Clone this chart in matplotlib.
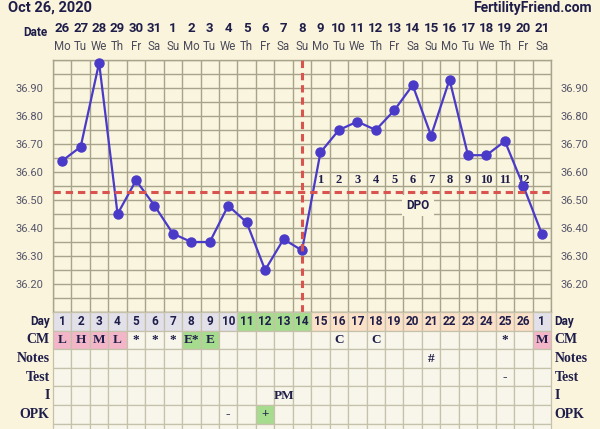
import matplotlib
matplotlib.use("Agg")
import matplotlib.pyplot as plt
from matplotlib.patches import Rectangle
import numpy as np

# ---------------- data ----------------
title = "Oct 26, 2020"
site = "FertilityFriend.com"
dates = ["26", "27", "28", "29", "30", "31", "1", "2", "3", "4", "5", "6", "7", "8",
         "9", "10", "11", "12", "13", "14", "15", "16", "17", "18", "19", "20", "21"]
weekdays = ["Mo", "Tu", "We", "Th", "Fr", "Sa", "Su", "Mo", "Tu", "We", "Th", "Fr", "Sa", "Su",
            "Mo", "Tu", "We", "Th", "Fr", "Sa", "Su", "Mo", "Tu", "We", "Th", "Fr", "Sa"]
cycle_days = [str(d) for d in range(1, 27)] + ["1"]
temps = [36.64, 36.69, 36.99, 36.45, 36.57, 36.48, 36.38, 36.35, 36.35, 36.48,
         36.42, 36.25, 36.36, 36.32, 36.67, 36.75, 36.78, 36.75, 36.82, 36.91,
         36.73, 36.93, 36.66, 36.66, 36.71, 36.55, 36.38]
coverline = 36.53
ovulation_day = 14
dpo_labels = [str(i) for i in range(1, 13)]
ytick_vals = [36.20, 36.30, 36.40, 36.50, 36.60, 36.70, 36.80, 36.90]

row_labels = ["Day", "CM", "Notes", "Test", "I", "OPK", ""]
day_phase = ["grey"] * 10 + ["green"] * 4 + ["peach"] * 12 + ["grey"]
cm_text = ["L", "H", "M", "L", "*", "*", "*", "E*", "E", "", "", "", "", "",
           "", "C", "", "C", "", "", "", "", "", "", "*", "", "M"]
cm_color = ["pink"] * 4 + [None] * 3 + ["green", "green"] + [None] * 17 + ["pink"]
notes_text = {21: "#"}
test_text = {25: "-"}
i_text = {13: "PM"}
opk_text = {10: "-", 12: "+"}
opk_color = {12: "green"}

# ---------------- style ----------------
BG = "#FAF4DC"
PLOT_BG = "#FAF5DF"
TABLE_BG = "#F8F6EA"
GRID = "#A8A38B"
TGRID = "#C6C1AA"
NAVY = "#1F1D4A"
LINE = "#4A3AC8"
RED = "#D9534F"
fills = {"grey": "#E2E1EA", "green": "#A6DC8E", "peach": "#FBE1C8", "pink": "#F3B6C8"}

W, H = 600, 429
fig = plt.figure(figsize=(6, 4.29), dpi=100, facecolor=BG)

x0, x1 = 53, 551
ytop, ybot = 60, 312
ax = fig.add_axes([x0 / W, 1 - ybot / H, (x1 - x0) / W, (ybot - ytop) / H])
ax.set_facecolor(PLOT_BG)
n = len(temps)
xs = np.arange(n)
ax.set_xlim(-0.5, n - 0.5)
ax.set_ylim(36.10, 37.00)

for xv in np.arange(-0.5, n, 1.0):
    ax.axvline(xv, color=GRID, lw=1.0, zorder=1)
for yv in np.arange(36.10, 37.001, 0.05):
    ax.axhline(yv, color=GRID, lw=1.0, zorder=1)
for s in ax.spines.values():
    s.set_color(GRID)
    s.set_linewidth(1.0)

ax.set_xticks([])
ax.set_yticks(ytick_vals)
ax.set_yticklabels([f"{v:.2f}" for v in ytick_vals])
ax.tick_params(axis="y", length=0, labelsize=8, labelcolor="#55556A", pad=7,
               labelleft=True, labelright=True)
for lab in ax.get_yticklabels():
    lab.set_family(["Roboto", "DejaVu Sans"])

# DPO numbers
for k, lab in enumerate(dpo_labels):
    ax.text(ovulation_day + k, coverline + 0.04, lab, ha="center", va="center",
            fontsize=9, fontweight="bold", color=NAVY,
            family=["Liberation Serif", "DejaVu Serif"], zorder=2)
ax.text(19.3, 36.48, "DPO", ha="center", va="center", fontsize=8.5, fontweight="bold",
        color=NAVY, family=["Roboto", "DejaVu Sans"], zorder=2,
        bbox=dict(boxstyle="square,pad=0.35", fc=PLOT_BG, ec="none"))

ax.plot(xs, temps, color=LINE, lw=1.6, marker="o", ms=6.5, zorder=4, clip_on=False)
ax.axhline(coverline, color=RED, lw=2.2, ls=(0, (2.4, 1.6)), zorder=5)
ax.axvline(ovulation_day - 1, color=RED, lw=2.2, ls=(0, (2.4, 1.6)), zorder=5)

# header
for i in range(n):
    ax.text(i, (ybot - 29) / (ybot - ytop), dates[i], transform=ax.get_xaxis_transform(),
            ha="center", va="center", fontsize=9.5, fontweight="bold", color=NAVY,
            family=["Liberation Sans Narrow", "Roboto", "DejaVu Sans"])
    ax.text(i, (ybot - 47) / (ybot - ytop), weekdays[i], transform=ax.get_xaxis_transform(),
            ha="center", va="center", fontsize=8.3, color="#4A4A5A",
            family=["Roboto", "DejaVu Sans"])
fig.text(48 / W, 1 - 32 / H, "Date", ha="right", va="center", fontsize=8.5,
         fontweight="bold", color=NAVY, family=["Roboto", "DejaVu Sans"])
fig.text(8 / W, 1 - 8 / H, title, ha="left", va="center", fontsize=10.5,
         fontweight="bold", color=NAVY, family=["Roboto", "DejaVu Sans"])
fig.text(592 / W, 1 - 8 / H, site, ha="right", va="center", fontsize=10,
         fontweight="bold", color=NAVY, family=["Roboto", "DejaVu Sans"])

# table
row_h = 18.6
tab = fig.add_axes([x0 / W, 0, (x1 - x0) / W, (H - ybot) / H])
tab.set_xlim(-0.5, n - 0.5)
tab.set_ylim((H - ybot) / row_h, 0)
tab.axis("off")

row_cells = [
    [(cycle_days[i], fills[day_phase[i]]) for i in range(n)],
    [(cm_text[i], fills[cm_color[i]] if cm_color[i] else None) for i in range(n)],
    [(notes_text.get(i + 1, ""), None) for i in range(n)],
    [(test_text.get(i + 1, ""), None) for i in range(n)],
    [(i_text.get(i + 1, ""), None) for i in range(n)],
    [(opk_text.get(i + 1, ""), fills[opk_color[i + 1]] if (i + 1) in opk_color else None)
     for i in range(n)],
    [("", None) for i in range(n)],
]
for r, cells in enumerate(row_cells):
    for i, (txt, fc) in enumerate(cells):
        tab.add_patch(Rectangle((i - 0.5, r), 1, 1, fc=fc if fc else TABLE_BG,
                                ec=TGRID, lw=0.9, zorder=1, clip_on=False))
        if txt:
            if r == 0:
                fam, fs = ["Roboto", "DejaVu Sans"], 8.5
            else:
                fam, fs = ["Liberation Serif", "DejaVu Serif"], 9.5
            tab.text(i, r + 0.5, txt, ha="center", va="center", fontsize=fs,
                     fontweight="bold", color=NAVY, family=fam, zorder=3)
    lab = row_labels[r]
    if lab:
        fam = ["Roboto", "DejaVu Sans"] if r == 0 else ["Liberation Serif", "DejaVu Serif"]
        fs = 8.5 if r == 0 else 10
        tab.text(-0.68, r + 0.5, lab, ha="right", va="center", fontsize=fs,
                 fontweight="bold", color=NAVY, family=fam)
        tab.text(n - 0.5 + 0.2, r + 0.5, lab, ha="left", va="center", fontsize=fs,
                 fontweight="bold", color=NAVY, family=fam)

fig.savefig("out.png", dpi=100, facecolor=BG)
